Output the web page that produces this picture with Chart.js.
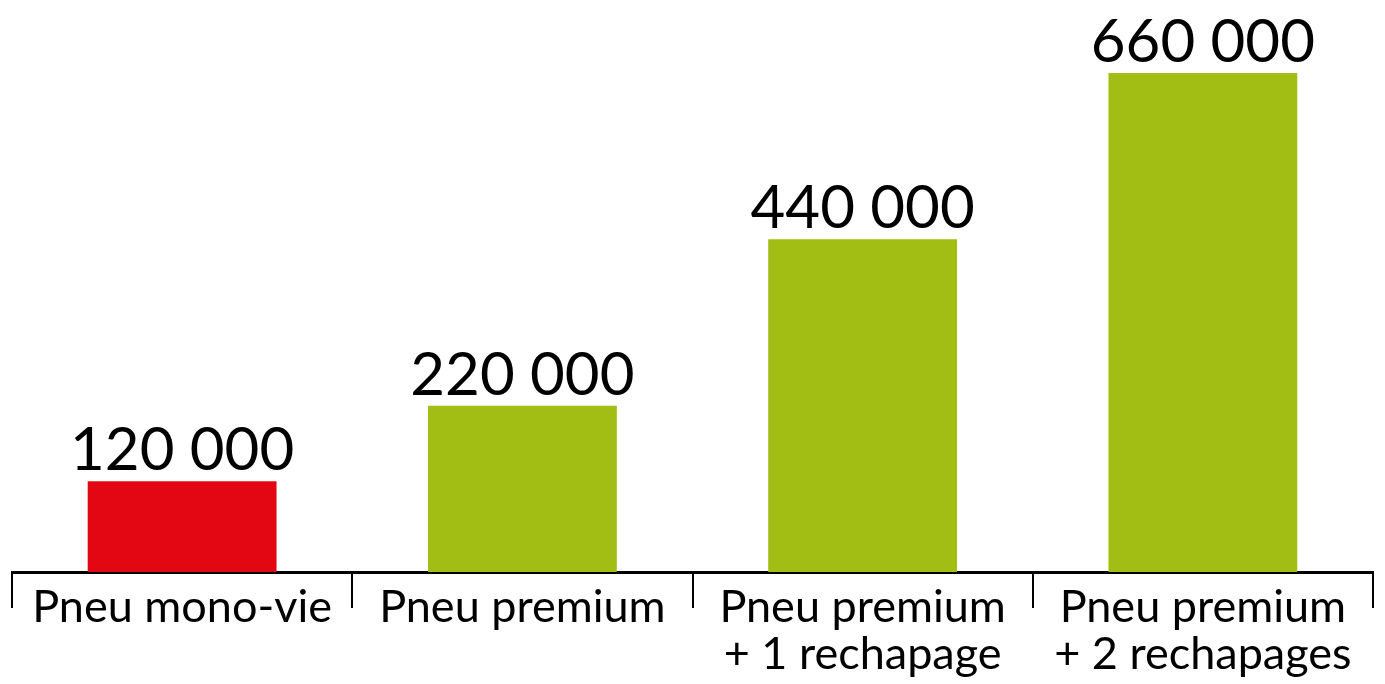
<!DOCTYPE html>
<html lang="fr">
<head>
  <meta charset="UTF-8">
  <script src="https://cdn.jsdelivr.net/npm/chart.js@4.4.0/dist/chart.umd.min.js"></script>
  <title>Pneus</title>
  <style>
    html, body { margin: 0; padding: 0; background: #fff; }
    #wrap { width: 1385px; height: 684px; }
  </style>
</head>
<body>
  <div id="wrap"><canvas id="chart"></canvas></div>
  <script>
    var categories = [
      ["Pneu mono-vie"],
      ["Pneu premium"],
      ["Pneu premium", "+ 1 rechapage"],
      ["Pneu premium", "+ 2 rechapages"]
    ];
    var values = [120000, 220000, 440000, 660000];
    var barColors = ["#e30613", "#a2bd14", "#a2bd14", "#a2bd14"];

    function fmt(v) {
      return String(v).replace(/\B(?=(\d{3})+(?!\d))/g, " ");
    }

    // valeurs au-dessus des barres
    var valueLabels = {
      id: "valueLabels",
      afterDatasetsDraw: function (chart) {
        var ctx = chart.ctx;
        var meta = chart.getDatasetMeta(0);
        ctx.save();
        ctx.font = "60px Lato";
        ctx.fillStyle = "#000";
        ctx.textAlign = "center";
        ctx.textBaseline = "alphabetic";
        meta.data.forEach(function (bar, i) {
          ctx.fillText(fmt(values[i]), bar.x, bar.y - 11);
        });
        ctx.restore();
      }
    };

    new Chart(document.getElementById("chart"), {
      type: "bar",
      data: {
        labels: categories,
        datasets: [{
          data: values,
          backgroundColor: barColors,
          barPercentage: 0.555,
          categoryPercentage: 1
        }]
      },
      options: {
        responsive: true,
        maintainAspectRatio: false,
        animation: false,
        layout: { padding: { left: 12, right: 12, top: 0, bottom: 0 } },
        plugins: { legend: { display: false }, tooltip: { enabled: false } },
        scales: {
          x: {
            afterFit: function (scale) { scale.height = 112; },
            border: { display: true, color: "#000", width: 3 },
            grid: {
              offset: true,
              drawOnChartArea: false,
              drawTicks: true,
              tickLength: 36,
              color: "#000",
              lineWidth: 2
            },
            ticks: {
              color: "#000",
              padding: -24,
              maxRotation: 0,
              autoSkip: false,
              font: { family: "Lato", size: 45, lineHeight: 1.05 }
            }
          },
          y: {
            display: false,
            min: 0,
            max: 756500
          }
        }
      },
      plugins: [valueLabels]
    });
  </script>
</body>
</html>
